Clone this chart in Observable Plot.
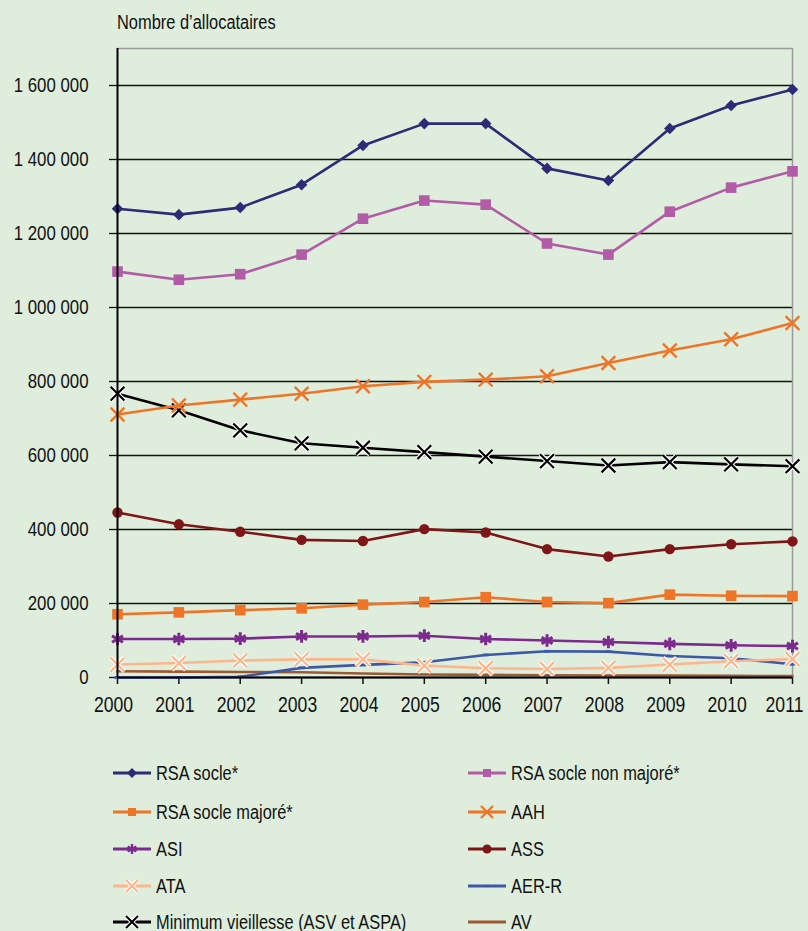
<!DOCTYPE html>
<html>
<head>
<meta charset="utf-8">
<script src="https://cdn.jsdelivr.net/npm/d3@7"></script>
<script src="https://cdn.jsdelivr.net/npm/@observablehq/plot@0.6"></script>
<style>
  html, body { margin: 0; padding: 0; background: #DFEEDC; }
  body { width: 808px; height: 931px; overflow: hidden;
         font-family: "Liberation Sans", Arial, sans-serif; color: #111; }
  #title { height: 36px; position: relative; }
  #title span { position: absolute; left: 117px; top: 10px; font-size: 20px; line-height: 24px;
                display: inline-block; transform: scaleX(0.82); transform-origin: left center; white-space: nowrap; }
  #legend { position: relative; height: 195px; }
  .item { position: absolute; display: flex; align-items: center; height: 30px; font-size: 20px; white-space: nowrap; }
  .item svg { margin-right: 5px; flex: none; }
  .item span { display: inline-block; transform: scaleX(0.82); transform-origin: left center; }
</style>
</head>
<body>
<div id="title"><span>Nombre d’allocataires</span></div>
<div id="chart"></div>
<div id="legend"></div>
<script>
// ---- data ----
const years = [2000, 2001, 2002, 2003, 2004, 2005, 2006, 2007, 2008, 2009, 2010, 2011];
const rsaSocle      = [1267000, 1251000, 1270000, 1332000, 1438000, 1497000, 1497000, 1376000, 1343000, 1484000, 1546000, 1589000];
const rsaNonMajore  = [1097000, 1075000, 1090000, 1143000, 1240000, 1289000, 1278000, 1173000, 1143000, 1259000, 1324000, 1368000];
const rsaMajore     = [171000, 176000, 182000, 187000, 197000, 204000, 217000, 204000, 201000, 224000, 221000, 220000];
const aah           = [711000, 735000, 751000, 767000, 787000, 799000, 805000, 814000, 850000, 884000, 914000, 958000];
const asi           = [104000, 104000, 105000, 111000, 111000, 113000, 104000, 100000, 96000, 91000, 87000, 85000];
const ass           = [446000, 414000, 394000, 372000, 369000, 401000, 392000, 347000, 327000, 347000, 360000, 368000];
const ata           = [35000, 39000, 46000, 49000, 49000, 32000, 25000, 23000, 26000, 35000, 44000, 50000];
const aerR          = [0, 0, 2000, 26000, 34000, 41000, 61000, 71000, 70000, 58000, 52000, 36000];
const minVieillesse = [767000, 722000, 668000, 633000, 621000, 609000, 597000, 585000, 573000, 582000, 576000, 571000];
const av            = [17000, 16000, 15000, 14000, 11000, 8000, 7000, 6000, 5000, 5000, 4500, 4000];

const seriesNames = ["RSA socle*", "RSA socle non majoré*", "RSA socle majoré*", "AAH", "ASI", "ASS",
                     "ATA", "AER-R", "Minimum vieillesse (ASV et ASPA)", "AV"];
const seriesValues = [rsaSocle, rsaNonMajore, rsaMajore, aah, asi, ass, ata, aerR, minVieillesse, av];

const yTicks  = [0, 200000, 400000, 600000, 800000, 1000000, 1200000, 1400000, 1600000];
const yLabels = ["0", "200 000", "400 000", "600 000", "800 000", "1 000 000", "1 200 000", "1 400 000", "1 600 000"];
const yMax = 1700000;

// ---- styles ----
const dash = { draw(ctx, size) { const r = Math.sqrt(size / Math.PI); ctx.rect(-r, -r * 0.45, 2 * r, r * 0.9); } };
const styles = {
  "RSA socle*":            { color: "#2F2A76", symbol: "diamond2", d3sym: d3.symbolDiamond2, r: 5.2, lr: 4.5, kind: "fill" },
  "RSA socle non majoré*": { color: "#B25CA7", symbol: "square", d3sym: d3.symbolSquare, r: 6, lr: 4.5, kind: "fill" },
  "RSA socle majoré*":     { color: "#EE7527", symbol: "square", d3sym: d3.symbolSquare, r: 6, lr: 4.5, kind: "fill" },
  "AAH":                   { color: "#EE7527", symbol: "times", d3sym: d3.symbolTimes, r: 6.3, lr: 5.5, kind: "stroke", sw: 2.4 },
  "ASI":                   { color: "#7D2A8E", symbol: "asterisk", d3sym: d3.symbolAsterisk, r: 6, lr: 4.8, kind: "stroke", sw: 3 },
  "ASS":                   { color: "#7E1517", symbol: "circle", d3sym: d3.symbolCircle, r: 5.2, lr: 4.5, kind: "fill" },
  "ATA":                   { color: "#FDB68C", symbol: "times", d3sym: d3.symbolTimes, r: 6.3, lr: 5.5, kind: "halo" },
  "AER-R":                 { color: "#3D59A6", symbol: dash, d3sym: dash, r: 3, lr: 2.5, kind: "fill" },
  "Minimum vieillesse (ASV et ASPA)": { color: "#000000", symbol: "times", d3sym: d3.symbolTimes, r: 6.3, lr: 5.5, kind: "halo" },
  "AV":                    { color: "#9C5A33", symbol: null, d3sym: null, r: 0, lr: 0, kind: "none" }
};

const rows = seriesNames.flatMap((name, k) => years.map((year, i) => ({ series: name, year, value: seriesValues[k][i] })));
const yLabelMap = new Map(yTicks.map((t, i) => [t, yLabels[i]]));

const drawOrder = ["AV", "AER-R", "ATA", "ASI", "RSA socle majoré*", "ASS", "Minimum vieillesse (ASV et ASPA)", "AAH", "RSA socle non majoré*", "RSA socle*"];

const seriesMarks = drawOrder.flatMap(name => {
  const st = styles[name];
  const d = rows.filter(r => r.series === name);
  const ms = [Plot.line(d, { x: "year", y: "value", stroke: st.color, strokeWidth: 2.6 })];
  if (st.kind === "fill") {
    ms.push(Plot.dot(d, { x: "year", y: "value", symbol: st.symbol, r: st.r, fill: st.color, stroke: "none" }));
  } else if (st.kind === "stroke") {
    ms.push(Plot.dot(d, { x: "year", y: "value", symbol: st.symbol, r: st.r, stroke: st.color, strokeWidth: st.sw, fill: "none" }));
  } else if (st.kind === "halo") {
    ms.push(Plot.dot(d, { x: "year", y: "value", symbol: st.symbol, r: st.r, stroke: "white", strokeWidth: 4.5, fill: "none" }));
    ms.push(Plot.dot(d, { x: "year", y: "value", symbol: st.symbol, r: st.r, stroke: st.color, strokeWidth: 2.2, fill: "none" }));
  }
  return ms;
});

const chart = Plot.plot({
  width: 808,
  height: 700,
  marginTop: 12,
  marginBottom: 59,
  marginLeft: 117,
  marginRight: 16,
  style: { background: "transparent", fontFamily: '"Liberation Sans", Arial, sans-serif', fontSize: "20px", color: "#111", overflow: "visible" },
  x: { type: "linear", domain: [2000, 2011] },
  y: { domain: [0, yMax] },
  marks: [
    Plot.gridY(yTicks, { stroke: "#111", strokeOpacity: 1, strokeWidth: 1.3 }),
    Plot.ruleY([yMax], { stroke: "#9a9a9a", strokeWidth: 1.5 }),
    Plot.ruleX([2011], { stroke: "#9a9a9a", strokeWidth: 1.5 }),
    Plot.axisY({ ticks: yTicks, tickFormat: d => yLabelMap.get(d), tickSize: 8, tickPadding: 21, fontSize: 20, label: null, strokeWidth: 1.3 }),
    Plot.axisX({ ticks: years, tickFormat: d => String(d), tickSize: 7, tickPadding: 12, fontSize: 22, label: null, strokeWidth: 1.5 }),
    ...seriesMarks,
    Plot.ruleX([2000], { stroke: "#000", strokeWidth: 2 }),
    Plot.ruleY([0], { stroke: "#000", strokeWidth: 2 })
  ]
});
document.getElementById("chart").appendChild(chart);

// narrow the axis labels (condensed look) without touching their positions
function narrow(selector, k, dx) {
  const texts = [...chart.querySelectorAll(selector)];
  texts.forEach((t, i) => {
    const len = t.getComputedTextLength();
    if (len > 0) {
      t.setAttribute("textLength", (len * k).toFixed(2));
      t.setAttribute("lengthAdjust", "spacingAndGlyphs");
    }
    if (dx) t.setAttribute("dx", i === texts.length - 1 ? dx - 4 : dx);
  });
}
narrow('g[aria-label="y-axis tick label"] text', 0.84, 0);
narrow('g[aria-label="x-axis tick label"] text', 0.8, -4);

// ---- legend ----
const legendLayout = [
  ["RSA socle*", "RSA socle non majoré*"],
  ["RSA socle majoré*", "AAH"],
  ["ASI", "ASS"],
  ["ATA", "AER-R"],
  ["Minimum vieillesse (ASV et ASPA)", "AV"]
];
const legend = document.getElementById("legend");
const colLeft = [113, 468];
const rowTop = [22, 61, 98, 135, 171];
legendLayout.forEach((pair, ri) => pair.forEach((name, ci) => {
  const st = styles[name];
  const item = document.createElement("div");
  item.className = "item";
  item.style.left = colLeft[ci] + "px";
  item.style.top = rowTop[ri] + "px";
  const w = 38, h = 20;
  let marker = "";
  if (st.d3sym) {
    const p = d3.symbol(st.d3sym, Math.PI * st.lr * st.lr)();
    const tr = `transform="translate(${w/2},${h/2})"`;
    if (st.kind === "fill") marker = `<path ${tr} d="${p}" fill="${st.color}"/>`;
    else if (st.kind === "stroke") marker = `<path ${tr} d="${p}" fill="none" stroke="${st.color}" stroke-width="2.4"/>`;
    else marker = `<path ${tr} d="${p}" fill="none" stroke="white" stroke-width="4"/><path ${tr} d="${p}" fill="none" stroke="${st.color}" stroke-width="2"/>`;
  }
  item.innerHTML = `<svg width="${w}" height="${h}"><line x1="0" x2="${w}" y1="${h/2}" y2="${h/2}" stroke="${st.color}" stroke-width="3"/>${marker}</svg><span>${name}</span>`;
  legend.appendChild(item);
}));
</script>
</body>
</html>
